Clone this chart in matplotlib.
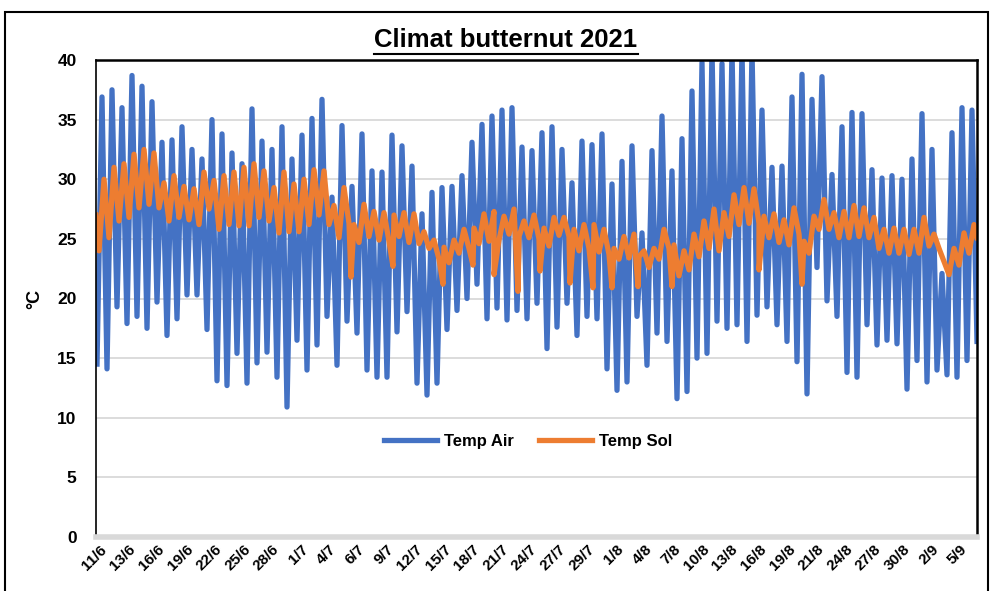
import matplotlib

matplotlib.use("Agg", force=True)
import matplotlib.pyplot as plt
import numpy as np
from matplotlib.lines import Line2D
from matplotlib.patches import Rectangle

plt.rcParams["font.family"] = ["Liberation Sans", "DejaVu Sans"]
plt.rcParams["font.weight"] = "bold"

# daily low / high of air temperature (°C), one value per day
air_min = [14.5, 14.1, 19.3, 17.9, 18.5, 17.5, 19.7, 16.9, 18.3, 20.3, 20.3, 17.4, 13.1, 12.7, 15.4,
           12.9, 14.6, 15.5, 13.4, 10.9, 16.5, 14.0, 16.1, 18.5, 14.4, 18.1, 17.1, 14.0, 13.4,
           13.4, 17.2, 18.9, 12.9, 11.9, 12.9, 17.4, 19.0, 20.0, 21.2, 18.3, 19.2, 18.2, 19.0, 18.3,
           19.6, 15.8, 17.6, 19.6, 16.9, 18.5, 18.3, 14.1, 12.3, 13.0, 18.5, 14.4, 17.1, 16.4,
           11.6, 12.2, 15.0, 15.4, 18.1, 17.5, 17.8, 16.4, 18.6, 19.3, 17.8, 16.4, 14.7, 12.0, 22.6,
           19.8, 18.5, 13.8, 13.4, 17.8, 16.1, 16.5, 16.2, 12.4, 14.8, 13.0, 14.0, 13.6, 13.4, 14.8]
air_max = [36.9, 37.5, 36.0, 38.7, 37.8, 36.5, 33.1, 33.3, 34.4, 32.5, 31.7, 35.0, 33.8, 32.2, 31.3,
           35.9, 33.2, 32.5, 34.4, 31.7, 33.7, 35.1, 36.7, 28.5, 34.5, 29.4, 33.8, 30.7, 30.6,
           33.7, 32.8, 31.1, 27.1, 28.9, 29.3, 29.4, 30.3, 33.1, 34.6, 35.3, 35.8, 36.0, 32.7, 32.4,
           33.9, 34.4, 32.5, 29.7, 33.2, 32.9, 33.8, 29.6, 31.5, 32.8, 25.5, 32.4, 35.3, 30.7,
           33.4, 37.4, 39.8, 40.8, 39.7, 40.8, 40.8, 40.8, 35.8, 31.0, 31.1, 36.9, 38.8, 36.7, 38.6,
           30.4, 34.4, 35.6, 35.5, 30.8, 30.1, 30.3, 30.0, 31.7, 35.5, 32.5, 22.1, 33.9, 36.0, 35.8]
air_end = 16.4

# daily low / high of soil temperature (°C)
soil_start = 27.0
soil_min = [24.0, 25.1, 26.5, 26.8, 27.6, 27.9, 27.6, 26.5, 26.8, 26.6, 26.2, 27.5, 25.8, 26.2,
            26.1, 26.1, 26.8, 26.5, 25.5, 25.6, 25.6, 26.2, 27.0, 26.2, 25.1, 26.3, 24.7, 25.2, 24.9,
            24.8, 25.2, 24.7, 24.6, 24.2, 23.3, 23.0, 23.8, 24.2, 24.6, 24.8, 24.9, 25.4, 25.2,
            25.1, 25.0, 24.4, 25.3, 25.2, 24.0, 24.2, 23.9, 23.7, 23.3, 23.4, 23.5, 22.6, 23.3, 24.2,
            21.9, 22.4, 23.5, 24.2, 24.0, 25.2, 26.2, 26.3, 26.3, 25.1, 24.7, 24.5, 25.4, 23.8,
            25.8, 25.8, 25.1, 25.1, 25.2, 25.1, 24.2, 23.8, 23.8, 23.7, 23.8, 24.4, 24.2, 22.0, 22.8, 23.8]
soil_max = [30.0, 31.0, 31.3, 32.1, 32.5, 32.2, 29.7, 30.3, 29.4, 29.2, 30.6, 29.9, 30.3, 30.6,
            31.0, 31.3, 30.7, 29.3, 30.6, 29.6, 30.0, 30.8, 30.7, 27.8, 29.3, 26.2, 27.9, 27.3, 27.2,
            27.0, 27.2, 27.1, 25.6, 24.9, 24.3, 24.9, 25.8, 25.9, 27.1, 27.3, 26.9, 27.5, 26.5,
            27.0, 25.9, 26.8, 26.8, 25.8, 26.2, 26.2, 25.8, 24.2, 25.2, 25.4, 24.0, 24.2, 25.8, 24.5,
            24.0, 25.4, 26.5, 27.5, 27.2, 28.7, 29.3, 29.2, 26.9, 27.1, 26.6, 27.6, 24.8, 26.9,
            28.3, 27.2, 27.3, 27.8, 27.6, 26.8, 25.8, 25.9, 25.8, 25.8, 26.8, 25.4, 23.1, 24.2, 25.5, 26.2]
soil_end = 25.1
# short drops of the soil reading (day, °C)
dip_day = [25.4, 29.6, 34.6, 37.6, 39.7, 42.1, 44.3, 47.3, 49.6, 51.5, 54.1, 57.5, 66.2, 70.5]
dip_val = [21.8, 22.7, 21.2, 22.8, 22.0, 20.6, 22.3, 21.3, 20.9, 20.9, 21.0, 21.0, 22.4, 21.2]

date_labels = ["11/6", "13/6", "16/6", "19/6", "22/6", "25/6", "28/6", "1/7", "4/7", "6/7",
               "9/7", "12/7", "15/7", "18/7", "21/7", "24/7", "27/7", "29/7", "1/8", "4/8",
               "7/8", "10/8", "13/8", "16/8", "19/8", "21/8", "24/8", "27/8", "30/8", "2/9", "5/9"]

BLUE = "#4472C4"
ORANGE = "#ED7D31"

n_days = len(air_min)
days = np.arange(n_days)

# air: low early in the day, high in the afternoon
air_t = np.append(np.column_stack([days, days + 0.5]).ravel(), n_days)
air_v = np.append(np.column_stack([air_min, air_max]).ravel(), air_end)

# soil lags the air a little
soil_t = np.concatenate([[-0.1], np.column_stack([days + 0.2, days + 0.7]).ravel(), [n_days], dip_day])
soil_v = np.concatenate([[soil_start], np.column_stack([soil_min, soil_max]).ravel(), [soil_end], dip_val])
order = np.argsort(soil_t)
soil_t, soil_v = soil_t[order], soil_v[order]

fig = plt.figure(figsize=(9.93, 5.91), dpi=100)
ax = fig.add_axes([96 / 993, 1 - 537 / 591, 881 / 993, 477 / 591])

ax.plot(air_t, air_v, color=BLUE, lw=3.8, label="Temp Air", solid_joinstyle="round")
ax.plot(soil_t, soil_v, color=ORANGE, lw=3.8, label="Temp Sol", solid_joinstyle="round")

ax.set_ylim(0, 40)
ax.set_xlim(-0.1, n_days)
ax.set_yticks(np.arange(0, 41, 5))
ax.yaxis.grid(True, color="#D9D9D9", lw=1.3)
ax.set_axisbelow(True)
ax.tick_params(axis="y", length=0, pad=14, labelsize=12.5)
ax.tick_params(axis="x", length=0, pad=4, labelsize=11)

ax.set_xticks(np.linspace(0.3, 86.3, len(date_labels)))
ax.set_xticklabels(date_labels, rotation=45, ha="right", va="top", rotation_mode="anchor")

for side in ("left", "top", "right"):
    ax.spines[side].set_color("black")
ax.spines["left"].set_linewidth(1.2)
ax.spines["top"].set_linewidth(1.8)
ax.spines["right"].set_linewidth(1.8)
ax.spines["bottom"].set_color("#D9D9D9")
ax.spines["bottom"].set_linewidth(4)

ax.set_ylabel("°C", fontsize=13, fontweight="bold", labelpad=10)

ax.legend(loc="center", bbox_to_anchor=(0.49, 0.2), ncol=2, frameon=False,
          fontsize=12, handlelength=3.2, columnspacing=1.5, handletextpad=0.4)

title = fig.text(506 / 993, 1 - 40 / 591, "Climat butternut 2021", ha="center", va="center",
                 fontsize=18.5, fontweight="bold")

fig.patches.append(Rectangle((5 / 993, -0.2), 983 / 993, 1.2 - 12 / 591, transform=fig.transFigure,
                             fill=False, edgecolor="black", lw=1.5, clip_on=False))

fig.canvas.draw()
bb = title.get_window_extent().transformed(fig.transFigure.inverted())
fig.lines.append(Line2D([bb.x0, bb.x1], [bb.y0 - 0.003, bb.y0 - 0.003], transform=fig.transFigure,
                        color="black", lw=1.5))

fig.savefig("out.png", dpi=100)
